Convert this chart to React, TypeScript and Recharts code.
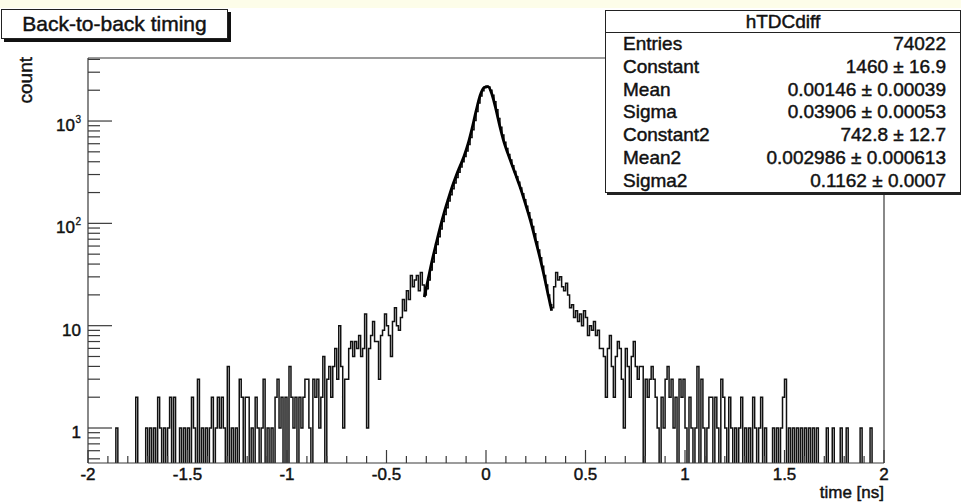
import React from 'react';
import { ComposedChart, Line, XAxis, YAxis, ReferenceLine } from 'recharts';

// ---- histogram: 400 bins of 0.01 ns from -2 to 2 (counts) ----
const BIN_WIDTH = 0.01;
const X_START = -2;
const ZERO_FLOOR = 0.1; // empty bins drawn below the frame (log scale)

// bins -2.00 .. -0.32
const leftTailCounts = [
  0, 0, 0, 0, 0, 0, 0, 0, 0, 0,
  0, 0, 0, 0, 1, 0, 0, 0, 0, 0,
  0, 0, 0, 0, 2, 0, 0, 0, 0, 1,
  0, 1, 0, 1, 0, 2, 1, 0, 1, 0,
  1, 2, 0, 2, 0, 0, 1, 0, 1, 0,
  1, 0, 2, 1, 0, 3, 0, 1, 0, 1,
  0, 1, 2, 0, 1, 2, 1, 2, 1, 0,
  4, 0, 1, 0, 1, 0, 3, 2, 0, 2,
  2, 0, 1, 0, 2, 1, 0, 1, 3, 0,
  1, 0, 1, 0, 2, 3, 1, 2, 0, 2,
  0, 4, 2, 1, 2, 0, 2, 1, 2, 3,
  3, 1, 0, 3, 2, 3, 1, 2, 5, 0,
  3, 4, 2, 4, 6, 3, 10, 4, 1, 3,
  3, 6, 7, 5, 7, 6, 8, 5, 6, 13,
  1, 6, 8, 11, 7, 7, 3, 8, 9, 13,
  10, 8, 5, 11, 15, 10, 9, 12, 18, 14,
  22, 18, 31, 24, 28, 31, 22, 33, 25,
];

// bins -0.31 .. 0.32
const coreCounts = [
  20, 23, 28, 35, 42, 51, 62, 74, 88, 104,
  122, 142, 165, 190, 218, 248, 280, 315, 355, 400,
  450, 510, 590, 690, 820, 1010, 1240, 1500, 1760, 1980,
  2130, 2190, 2150, 2000, 1790, 1540, 1290, 1060, 870, 730,
  620, 540, 470, 415, 365, 322, 285, 252, 222, 195,
  170, 147, 127, 109, 93, 79, 66, 55, 46, 38,
  31, 25, 20, 16,
];

// bins 0.33 .. 1.99
const rightTailCounts = [
  15, 24, 33, 28, 30, 24, 22, 26, 20, 15,
  16, 12, 14, 11, 13, 10, 14, 12, 8, 10,
  9, 11, 8, 9, 6, 6, 5, 2, 6, 8,
  4, 2, 5, 7, 6, 3, 1, 6, 4, 2,
  5, 7, 4, 3, 4, 4, 0, 3, 2, 3,
  4, 3, 2, 1, 0, 2, 1, 3, 4, 2,
  3, 1, 2, 0, 3, 2, 3, 1, 0, 2,
  1, 0, 1, 4, 0, 3, 1, 0, 1, 2,
  2, 0, 2, 1, 0, 3, 2, 1, 0, 2,
  1, 0, 1, 0, 1, 2, 0, 1, 0, 1,
  0, 2, 1, 0, 1, 2, 0, 1, 0, 0,
  0, 1, 0, 1, 0, 1, 2, 3, 0, 1,
  0, 1, 0, 1, 0, 1, 0, 1, 0, 1,
  0, 1, 0, 1, 0, 0, 0, 0, 1, 0,
  0, 1, 0, 0, 0, 1, 0, 0, 1, 0,
  0, 0, 0, 0, 0, 1, 0, 0, 0, 0,
  1, 0, 0, 0, 0, 0, 0,
];

// ---- fitted double gaussian ----
const fitX = [
  -0.31, -0.29, -0.27, -0.25, -0.23, -0.21, -0.19, -0.17, -0.15, -0.13, -0.11,
  -0.09, -0.07, -0.05, -0.03, -0.01, 0.01, 0.03, 0.05, 0.07, 0.09, 0.11,
  0.13, 0.15, 0.17, 0.19, 0.21, 0.23, 0.25, 0.27, 0.29, 0.31, 0.33,
];
const fitY = [
  19, 29, 44, 64, 92, 128, 172, 228, 292, 365, 455,
  600, 850, 1250, 1770, 2130, 2170, 1820, 1300, 880, 625, 480,
  375, 295, 230, 175, 130, 95, 67, 47, 32, 21, 14,
];

// ---- axes ----
const xMajorTicks = [-2, -1.5, -1, -0.5, 0, 0.5, 1, 1.5, 2];
const xAllTicks = Array.from({ length: 41 }, (_, i) => (i - 20) / 10);
const yMajorTicks = [1, 10, 100, 1000];
const yMajorLabels = ['1', '10', '10', '10'];
const yMajorExponents = ['', '', '2', '3'];
const yMinorTicks = [
  0.5, 0.6, 0.7, 0.8, 0.9,
  2, 3, 4, 5, 6, 7, 8, 9,
  20, 30, 40, 50, 60, 70, 80, 90,
  200, 300, 400, 500, 600, 700, 800, 900,
  2000, 3000, 4000,
];
const yDomain = [0.455, 4130];

// ---- stats box ----
const statNames = ['Entries', 'Constant', 'Mean', 'Sigma', 'Constant2', 'Mean2', 'Sigma2'];
const statValues = [
  '74022',
  '1460 \u00b1 16.9',
  '0.00146 \u00b1 0.00039',
  '0.03906 \u00b1 0.00053',
  '742.8 \u00b1 12.7',
  '0.002986 \u00b1 0.000613',
  '0.1162 \u00b1 0.0007',
];

const FONT = '"Liberation Sans", Arial, Helvetica, sans-serif';
const AXIS_COLOR = '#3a3a3a';
const TEXT_STROKE = '0.45px #111';

const XTick = (props: any) => {
  const { x, y, payload } = props;
  const v = payload.value as number;
  const major = xMajorTicks.some((m) => Math.abs(m - v) < 1e-6);
  return (
    <g>
      <line x1={x} x2={x} y1={y} y2={y - (major ? 13 : 7)} stroke={AXIS_COLOR} strokeWidth={1.2} />
      {major && (
        <text
          x={x}
          y={y + 17}
          textAnchor="middle"
          fontSize={17}
          fontFamily={FONT}
          fill="#111"
          stroke="#111"
          strokeWidth={0.45}
        >
          {String(v)}
        </text>
      )}
    </g>
  );
};

const YTick = (props: any) => {
  const { x, y, payload } = props;
  const v = payload.value as number;
  const idx = yMajorTicks.indexOf(v);
  const major = idx >= 0;
  return (
    <g>
      <line x1={x} x2={x + (major ? 24 : 12)} y1={y} y2={y} stroke={AXIS_COLOR} strokeWidth={1.2} />
      {major && (
        <text
          x={x - (yMajorExponents[idx] ? 13 : 7)}
          y={y + 10}
          textAnchor="end"
          fontSize={17}
          fontFamily={FONT}
          fill="#111"
          stroke="#111"
          strokeWidth={0.45}
        >
          {yMajorLabels[idx]}
        </text>
      )}
      {major && yMajorExponents[idx] && (
        <text x={x - 7} y={y + 2} textAnchor="end" fontSize={10} fontFamily={FONT} fill="#111" stroke="#111" strokeWidth={0.3}>
          {yMajorExponents[idx]}
        </text>
      )}
    </g>
  );
};

export default function App() {
  const counts = [...leftTailCounts, ...coreCounts, ...rightTailCounts];
  const histData = counts.map((c, i) => ({
    x: Math.round((X_START + i * BIN_WIDTH) * 100) / 100,
    y: c > 0 ? c : ZERO_FLOOR,
  }));
  histData.push({ x: 2, y: histData[histData.length - 1].y });
  const fitData = fitX.map((x, i) => ({ x, y: fitY[i] }));
  const yTicks = [...yMinorTicks, ...yMajorTicks].sort((a, b) => a - b);

  const rowH = 22.8;

  return (
    <div
      style={{
        position: 'absolute',
        left: 0,
        top: 0,
        width: 961,
        height: 503,
        background: '#fff',
        overflow: 'hidden',
        fontFamily: FONT,
        color: '#111',
        WebkitTextStroke: TEXT_STROKE,
      }}
    >
      <div style={{ position: 'absolute', left: 0, top: 0, width: 961, height: 8, background: '#fdfde9' }} />
      <div style={{ position: 'absolute', left: 0, top: 0 }}>
        <ComposedChart width={961} height={503} margin={{ top: 58, right: 77, bottom: 0, left: 0 }}>
          <XAxis
            dataKey="x"
            type="number"
            domain={[-2, 2]}
            ticks={xAllTicks}
            interval={0}
            tickSize={0}
            tickMargin={0}
            tickLine={false}
            axisLine={{ stroke: AXIS_COLOR, strokeWidth: 1.2 }}
            tick={(p: any) => <XTick {...p} />}
            height={40}
            allowDataOverflow
          />
          <YAxis
            type="number"
            scale="log"
            domain={yDomain}
            ticks={yTicks}
            interval={0}
            tickSize={0}
            tickMargin={0}
            tickLine={false}
            axisLine={{ stroke: AXIS_COLOR, strokeWidth: 1.2 }}
            tick={(p: any) => <YTick {...p} />}
            width={88}
            allowDataOverflow
          />
          <ReferenceLine y={yDomain[1]} stroke={AXIS_COLOR} strokeWidth={1.2} />
          <ReferenceLine x={2} stroke={AXIS_COLOR} strokeWidth={1.2} />
          <Line
            data={histData}
            dataKey="y"
            type="stepAfter"
            stroke="#111"
            strokeWidth={1.5}
            dot={false}
            isAnimationActive={false}
          />
          <Line
            data={fitData}
            dataKey="y"
            type="monotone"
            stroke="#000"
            strokeWidth={2.8}
            dot={false}
            isAnimationActive={false}
          />
        </ComposedChart>
      </div>

      {/* axis titles */}
      <div
        style={{
          position: 'absolute',
          left: 25,
          top: 57,
          fontSize: 19,
          lineHeight: '19px',
          transform: 'translate(-50%, 0) rotate(-90deg) translate(-50%, 0)',
          transformOrigin: '50% 0',
          whiteSpace: 'nowrap',
        }}
      >
        <span style={{ display: 'inline-block', transform: 'translate(0,-50%)' }}>count</span>
      </div>
      <div
        style={{
          position: 'absolute',
          right: 961 - 884,
          top: 484,
          fontSize: 17,
          lineHeight: '18px',
          whiteSpace: 'nowrap',
        }}
      >
        time [ns]
      </div>

      {/* title box */}
      <div
        style={{
          position: 'absolute',
          left: 1,
          top: 9,
          width: 225,
          height: 28,
          border: '1px solid #222',
          boxShadow: '3px 3px 0 #111',
          background: '#fff',
          fontSize: 21,
          lineHeight: '28px',
          textAlign: 'center',
        }}
      >
        Back-to-back timing
      </div>

      {/* stats box */}
      <div
        style={{
          position: 'absolute',
          left: 605,
          top: 10,
          width: 354,
          height: 181,
          border: '1px solid #222',
          boxShadow: '2px 2px 0 #222',
          background: '#fff',
        }}
      >
        <div
          style={{
            position: 'absolute',
            left: 0,
            top: 0,
            width: '100%',
            height: 21,
            borderBottom: '1px solid #222',
            textAlign: 'center',
            fontSize: 19,
            lineHeight: '22px',
          }}
        >
          hTDCdiff
        </div>
        {statNames.map((n, i) => (
          <div
            key={n}
            style={{
              position: 'absolute',
              left: 17,
              right: 14,
              top: 22 + i * rowH,
              height: rowH,
              lineHeight: `${rowH}px`,
              fontSize: 19,
              display: 'flex',
              justifyContent: 'space-between',
              whiteSpace: 'nowrap',
            }}
          >
            <span>{n}</span>
            <span>{statValues[i]}</span>
          </div>
        ))}
      </div>
    </div>
  );
}
